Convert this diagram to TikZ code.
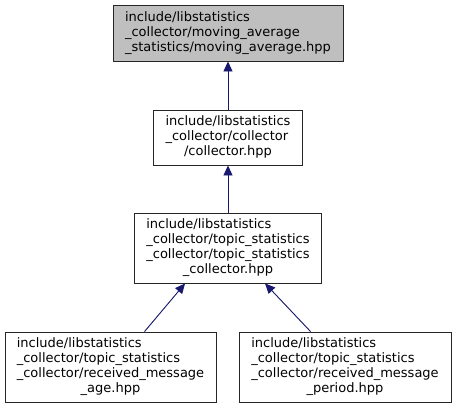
\documentclass[tikz,border=0pt]{standalone}
\usepackage{fontspec}
\setmainfont{DejaVu Sans}
\usetikzlibrary{arrows.meta}
\definecolor{edgecol}{HTML}{191970}
\definecolor{grayfill}{HTML}{BFBFBF}
\newcommand{\boxtext}[2]{{\fontsize{13pt}{15pt}\selectfont\begin{tabular}{@{}l@{}}#1\\\multicolumn{1}{@{}c@{}}{#2}\end{tabular}}}
\begin{document}
\begin{tikzpicture}[x=1pt,y=-1pt,
  filebox/.style={draw=black!85, line width=0.9pt, fill=white, inner sep=0pt, anchor=center},
  edge/.style={draw=edgecol, line width=0.9pt, -{Triangle[length=10pt,width=9pt]}, fill=edgecol}]
\useasboundingbox[fill=white] (0,0) rectangle (456,408);
\node[filebox, fill=grayfill, minimum width=230pt, minimum height=56pt] (A) at (228,33)
  {\boxtext{include/libstatistics\\\_collector/moving\_average}{\_statistics/moving\_average.hpp}};
\node[filebox, minimum width=149pt, minimum height=55pt] (B) at (228,137.5)
  {\boxtext{include/libstatistics\\\_collector/collector}{/collector.hpp}};
\node[filebox, minimum width=187pt, minimum height=70pt] (C) at (228,248)
  {\boxtext{include/libstatistics\\\_collector/topic\_statistics\\\_collector/topic\_statistics}{\_collector.hpp}};
\node[filebox, minimum width=211pt, minimum height=70pt] (D) at (110.5,367)
  {\boxtext{include/libstatistics\\\_collector/topic\_statistics\\\_collector/received\_message}{\_age.hpp}};
\node[filebox, minimum width=212pt, minimum height=70pt] (E) at (345,367)
  {\boxtext{include/libstatistics\\\_collector/topic\_statistics\\\_collector/received\_message}{\_period.hpp}};
\draw[edge] (B.north) -- (A.south);
\draw[edge] (C.north) -- (B.south);
\draw[edge] ([xshift=140pt]D.north west) -- ([xshift=51pt]C.south west);
\draw[edge] ([xshift=72pt]E.north west) -- ([xshift=131pt]C.south west);
\end{tikzpicture}
\end{document}
